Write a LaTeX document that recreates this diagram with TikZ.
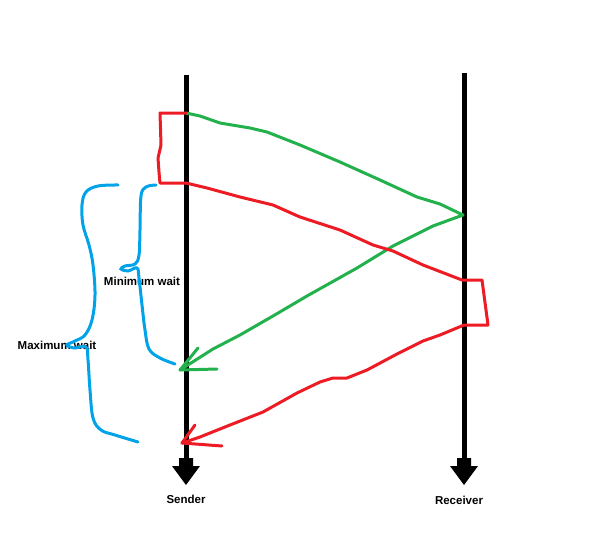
\documentclass[tikz,border=0pt]{standalone}
\usepackage{fontspec}
\setmainfont{Liberation Sans}
\usepackage{tikz}

\definecolor{paintred}{RGB}{237,28,36}
\definecolor{paintgreen}{RGB}{34,177,76}
\definecolor{paintblue}{RGB}{0,162,232}

% block arrow head under a lifeline
\newcommand{\blockhead}[1]{%
  \fill (#1) ++(-7,0) -- ++(14,0) -- ++(0,8) -- ++(7,0) -- ++(-14,19)
    -- ++(-14,-19) -- ++(7,0) -- cycle;}

\begin{document}
\begin{tikzpicture}[x=1pt,y=-1pt,
    lifeline/.style={line width=5pt},
    msg/.style={line width=3pt, line join=round, line cap=round},
    brace/.style={line width=3pt, paintblue, line cap=round, smooth, tension=0.6},
    lbl/.style={font=\bfseries\fontsize{11.5}{13}\selectfont, inner sep=0pt}]
    \useasboundingbox (0,0) rectangle (596,559);

    % lifelines
    \coordinate (sender top) at (186,75);
    \coordinate (sender end) at (186,458);
    \coordinate (receiver top) at (464,73);
    \coordinate (receiver end) at (464,458);
    \draw[lifeline] (sender top) -- (sender end);
    \draw[lifeline] (receiver top) -- (receiver end);
    \blockhead{sender end}
    \blockhead{receiver end}
    \node[lbl] (sender) at (186,499) {Sender};
    \node[lbl] (receiver) at (459,500) {Receiver};

    % message and its ack
    \coordinate (msg start) at (186,113);
    \coordinate (msg hit) at (463,215);
    \coordinate (ack tip) at (180,370);
    \draw[msg, paintgreen] (msg start) -- (200,116) -- (220,123) -- (250,128) -- (267,132)
        -- (300,145) -- (340,162) -- (380,180) -- (417,197) -- (440,204) -- (msg hit)
        -- (433,226) -- (393,246) -- (357,268) -- (307,296) -- (273,316) -- (240,335)
        -- (213,349) -- (ack tip);
    \draw[msg, paintgreen] (ack tip) -- (198,348);
    \draw[msg, paintgreen] (ack tip) -- (217,369);

    % timeout and retransmission
    \coordinate (retry start) at (186,183);
    \coordinate (retry tip) at (182,443);
    \draw[msg, paintred] (msg start) -- (160,113) -- (161,145) -- (158,158) -- (159,172)
        -- (160,183) -- (retry start);
    \draw[msg, paintred] (retry start) -- (207,188) -- (240,197) -- (273,205) -- (300,217)
        -- (340,230) -- (373,245) -- (393,251) -- (423,265) -- (462,280) -- (482,280)
        -- (488,325) -- (464,325) -- (440,335) -- (423,341) -- (397,354) -- (367,370)
        -- (347,378) -- (333,378) -- (320,382) -- (297,393) -- (263,412) -- (230,425)
        -- (200,437) -- (retry tip);
    \draw[msg, paintred] (retry tip) -- (195,425);
    \draw[msg, paintred] (retry tip) -- (222,446);

    % waits
    \node[lbl] (min wait) at (142,281) {Minimum wait};
    \node[lbl] (max wait) at (57,345) {Maximum wait};
    \draw[brace] plot coordinates {(156,185) (146,187) (141,196) (140,230) (139,255)
        (135,264) (125,266) (121,269) (128,271) (137,268) (139,278) (142,305) (145,330)
        (149,349) (160,358) (175,364)};
    \draw[brace] plot coordinates {(118,185) (98,186) (86,192) (82,205) (83,225) (89,245)
        (93,265) (95,295) (92,320) (85,335) (75,341) (67,345) (74,348) (86,347) (88,360)
        (90,390) (93,418) (101,430) (115,435) (138,442)};
\end{tikzpicture}
\end{document}
